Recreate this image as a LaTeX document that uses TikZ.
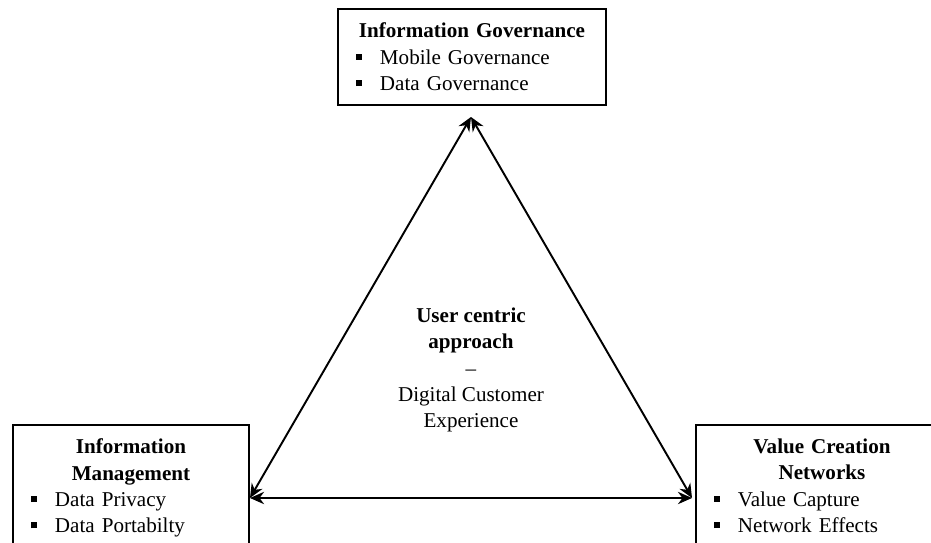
\documentclass[tikz,border=0pt]{standalone}
\usepackage{fontspec}
\setmainfont{Liberation Serif}
\usetikzlibrary{arrows.meta}
\newcommand\boxtitle[2]{\makebox[#1][c]{\bfseries #2}}
\newcommand\bitem[1]{\hspace*{0.36cm}\rule[0.09cm]{0.12cm}{0.12cm}\hspace{0.36cm}#1}
\tikzset{
  pillar/.style={draw, line width=1.1pt, anchor=north west, align=left,
    inner xsep=0pt, inner ysep=0.28cm, font=\fontsize{12}{15}\selectfont},
  link/.style={{Stealth[length=8pt,width=7pt]}-{Stealth[length=8pt,width=7pt]}, line width=1.1pt}
}
\begin{document}
\begin{tikzpicture}
\useasboundingbox (0,0) rectangle (18.62,10.84);
\clip (0,0) rectangle (18.62,10.84);
% the three pillars
\node[pillar, text width=5.36cm] (gov) at (6.74,10.68)
  {\boxtitle{5.36cm}{Information Governance}\\\bitem{Mobile Governance}\\\bitem{Data Governance}};
\node[pillar, text width=4.72cm] (mgmt) at (0.24,2.36)
  {\boxtitle{4.72cm}{Information}\\\boxtitle{4.72cm}{Management}\\\bitem{Data Privacy}\\\bitem{Data Portabilty\rule[-1cm]{0pt}{0pt}}};
\node[pillar, text width=5.04cm] (value) at (13.90,2.36)
  {\boxtitle{5.04cm}{Value Creation}\\\boxtitle{5.04cm}{Networks}\\\bitem{Value Capture}\\\bitem{Network Effects\rule[-1cm]{0pt}{0pt}}};
% centre
\node[align=center, font=\fontsize{12}{15}\selectfont] (user) at (9.42,3.44)
  {\textbf{User centric}\\\textbf{approach}\\--\\Digital Customer\\Experience};
% triangle
\coordinate (apex) at (9.42,8.50);
\coordinate (lcorner) at (5.00,0.88);
\coordinate (rcorner) at (13.84,0.88);
\draw[link] (apex) -- (lcorner);
\draw[link] (apex) -- (rcorner);
\draw[link] (lcorner) -- (rcorner);
\end{tikzpicture}
\end{document}
